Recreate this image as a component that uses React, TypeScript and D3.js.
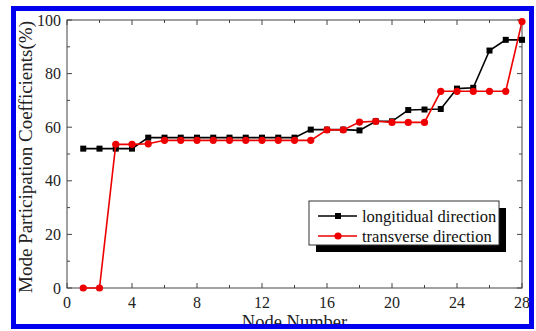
import React from "react";
import * as d3 from "d3";

const nodes = Array.from({ length: 28 }, (_, i) => i + 1);
const longitudinal = [52, 52, 52, 52, 56.1, 56.1, 56.1, 56.1, 56.1, 56.1, 56.1, 56.1, 56.1, 56.1, 59.1, 59.1, 59.1, 58.8, 62.2, 62.2, 66.4, 66.6, 66.8, 74.4, 74.7, 88.6, 92.6, 92.6];
const transverse = [0, 0, 53.6, 53.6, 53.8, 55.1, 55.1, 55.1, 55.1, 55.1, 55.1, 55.1, 55.1, 55.1, 55.1, 59, 59, 61.9, 62.2, 61.8, 61.8, 61.8, 73.4, 73.4, 73.4, 73.4, 73.4, 99.4];
const xTicks = [0, 4, 8, 12, 16, 20, 24, 28];
const xMinor = [2, 6, 10, 14, 18, 22, 26];
const yTicks = [0, 20, 40, 60, 80, 100];
const yMinor = [10, 30, 50, 70, 90];
const seriesNames = ["longitidual direction", "transverse direction"];

const W = 536, H = 331;
const L = 67, R = 522, T = 20, B = 288;
const font = "'Liberation Serif', 'Times New Roman', serif";

export default function App() {
  const x = d3.scaleLinear().domain([0, 28]).range([L, R]);
  const y = d3.scaleLinear().domain([0, 100]).range([B, T]);
  const line = d3.line<number>().x((_, i) => x(nodes[i])).y((d) => y(d));
  const axisColor = "#444";
  const major = 5, minor = 3;
  return (
    <div style={{ position: "fixed", left: 0, top: 0 }}>
      <svg width={W} height={H} style={{ display: "block", background: "#fff" }}>
        <rect x={L} y={T} width={R - L} height={B - T} fill="none" stroke={axisColor} strokeWidth={1} />
        {xTicks.map((t) => (
          <g key={"xt" + t}>
            <line x1={x(t)} x2={x(t)} y1={B} y2={B - major} stroke={axisColor} />
            <line x1={x(t)} x2={x(t)} y1={T} y2={T + major} stroke={axisColor} />
            <text x={x(t)} y={308} textAnchor="middle" fontFamily={font} fontSize={16} fill="#222">{t}</text>
          </g>
        ))}
        {xMinor.map((t) => (
          <g key={"xm" + t}>
            <line x1={x(t)} x2={x(t)} y1={B} y2={B - minor} stroke={axisColor} />
            <line x1={x(t)} x2={x(t)} y1={T} y2={T + minor} stroke={axisColor} />
          </g>
        ))}
        {yTicks.map((t) => (
          <g key={"yt" + t}>
            <line x1={L} x2={L + major} y1={y(t)} y2={y(t)} stroke={axisColor} />
            <line x1={R} x2={R - major} y1={y(t)} y2={y(t)} stroke={axisColor} />
            <text x={61} y={y(t)} dy="0.35em" textAnchor="end" fontFamily={font} fontSize={16} fill="#222">{t}</text>
          </g>
        ))}
        {yMinor.map((t) => (
          <g key={"ym" + t}>
            <line x1={L} x2={L + minor} y1={y(t)} y2={y(t)} stroke={axisColor} />
            <line x1={R} x2={R - minor} y1={y(t)} y2={y(t)} stroke={axisColor} />
          </g>
        ))}
        <path d={line(longitudinal) || ""} fill="none" stroke="#000" strokeWidth={1.6} />
        {longitudinal.map((v, i) => (
          <rect key={"l" + i} x={x(nodes[i]) - 3} y={y(v) - 3} width={6} height={6} fill="#000" />
        ))}
        <path d={line(transverse) || ""} fill="none" stroke="#ee0000" strokeWidth={1.6} />
        {transverse.map((v, i) => (
          <circle key={"t" + i} cx={x(nodes[i])} cy={y(v)} r={3.6} fill="#ee0000" />
        ))}
        <rect x={316} y={208} width={190} height={44} fill="#000" />
        <rect x={309} y={201} width={190} height={44} fill="#fff" stroke="#333" strokeWidth={1} />
        <line x1={318} x2={357} y1={216} y2={216} stroke="#000" strokeWidth={1.6} />
        <rect x={335} y={213} width={6} height={6} fill="#000" />
        <text x={362} y={216} dy="0.35em" fontFamily={font} fontSize={16.5} fill="#111">{seriesNames[0]}</text>
        <line x1={318} x2={357} y1={236} y2={236} stroke="#ee0000" strokeWidth={1.6} />
        <circle cx={338} cy={236} r={3.6} fill="#ee0000" />
        <text x={362} y={236} dy="0.35em" fontFamily={font} fontSize={16.5} fill="#111">{seriesNames[1]}</text>
        <text x={(L + R) / 2} y={327.5} textAnchor="middle" fontFamily={font} fontSize={18.5} fill="#222">Node Number</text>
        <text transform={`translate(32,157) rotate(-90)`} textAnchor="middle" fontFamily={font} fontSize={19} fill="#222">Mode Participation Coefficients(%)</text>
        <rect x={13.5} y={8.5} width={518} height={318} fill="none" stroke="#0000ee" strokeWidth={5} />
      </svg>
    </div>
  );
}
